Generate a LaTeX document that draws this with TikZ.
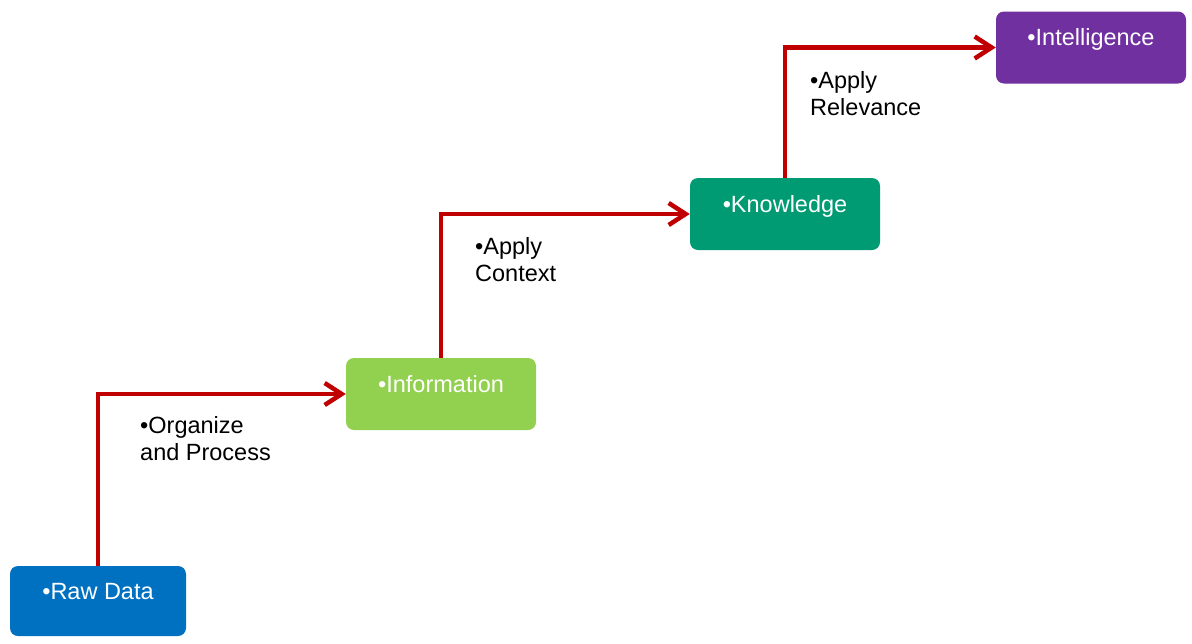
\documentclass[tikz,border=0pt]{standalone}
\usepackage{fontspec}
\setmainfont{Liberation Sans}
\usetikzlibrary{arrows.meta}
\definecolor{rawblue}{RGB}{0,112,192}
\definecolor{infogreen}{RGB}{146,208,80}
\definecolor{knowgreen}{RGB}{0,155,115}
\definecolor{intelpurple}{RGB}{112,48,160}
\definecolor{arrowred}{RGB}{192,0,0}
\begin{document}
\begin{tikzpicture}[x=1pt,y=-1pt]
        \tikzstyle{stage} = [rectangle, rounded corners=8pt, minimum width=190pt, minimum height=72pt, text=white, text height=14pt, text depth=18pt, font=\fontsize{23.5}{27}\selectfont]
        \tikzstyle{note} = [anchor=north west, inner sep=0pt, align=left, font=\fontsize{23.5}{27}\selectfont]
        \tikzstyle{arrow} = [line width=4.5pt, draw=arrowred, -{Straight Barb[length=17pt,width=22pt]}]

                \useasboundingbox (0,0) rectangle (1192,643);

                \node (raw) [stage, fill=rawblue, minimum width=176pt, minimum height=70pt] at (98,601) {•Raw Data};
                \node (info) [stage, fill=infogreen] at (441,394) {•Information};
                \node (know) [stage, fill=knowgreen] at (785,214) {•Knowledge};
                \node (intel) [stage, fill=intelpurple] at (1091,47.5) {•Intelligence};

                \node (organize) [note] at (140,416) {•Organize\\and Process};
                \node (context) [note] at (475,237) {•Apply\\Context};
                \node (relevance) [note] at (810,71) {•Apply\\Relevance};

                \draw[arrow] (raw.north) |- (info.west);
                \draw[arrow] (info.north) |- (know.west);
                \draw[arrow] (know.north) |- (intel.west);
    \end{tikzpicture}
\end{document}
